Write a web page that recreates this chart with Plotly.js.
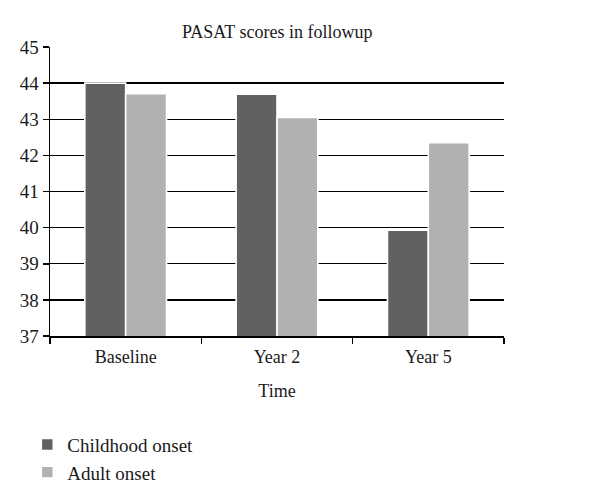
<!DOCTYPE html>
<html>
<head>
<meta charset="utf-8">
<script src="https://cdn.plot.ly/plotly-3.0.1.min.js"></script>
<style>html,body{margin:0;padding:0;background:#fff;}#chart{width:600px;height:503px;}</style>
</head>
<body>
<div id="chart"></div>
<script>
const categories = ["Baseline", "Year 2", "Year 5"];
const childhoodOnset = [44.0, 43.69, 39.93];
const adultOnset = [43.71, 43.05, 42.35];
const seriesNames = ["Childhood onset", "Adult onset"];
const yTicks = [37, 38, 39, 40, 41, 42, 43, 44, 45];

const fam = "Liberation Serif, Times New Roman, serif";
const font = {family: fam, size: 19, color: "#1a1a1a"};
const font18 = {family: fam, size: 18, color: "#1a1a1a"};

const traces = [
  {type: "bar", name: seriesNames[0], x: categories, y: childhoodOnset,
   marker: {color: "#616161", line: {color: "#ffffff", width: 1.6}}},
  {type: "bar", name: seriesNames[1], x: categories, y: adultOnset,
   marker: {color: "#b1b1b1", line: {color: "#ffffff", width: 1.6}}}
];

const layout = {
  width: 600, height: 503,
  margin: {l: 50, r: 96, t: 47, b: 163},
  paper_bgcolor: "#fff", plot_bgcolor: "#fff",
  font: font,
  barmode: "group",
  bargap: 0.46,
  bargroupgap: 0,
  title: {text: "PASAT scores in followup", font: font18, x: 0.462, xanchor: "center", y: 1 - 32/503, yanchor: "middle", yref: "container"},
  xaxis: {
    title: {text: "Time", font: font18, standoff: 18},
    showline: true, linecolor: "#000", linewidth: 1.5,
    ticks: "outside", tickson: "boundaries", ticklen: 6, tickwidth: 1.5, tickcolor: "#000",
    ticklabelstandoff: 4,
    showgrid: false, tickfont: font18
  },
  yaxis: {
    range: [37, 45], tickvals: yTicks,
    showline: true, linecolor: "#000", linewidth: 1.5,
    ticks: "outside", ticklen: 6, tickwidth: 1.5, tickcolor: "#000",
    showgrid: true, gridcolor: "#000", gridwidth: 1.4,
    zeroline: false, tickfont: font
  },
  showlegend: true,
  legend: {
    x: -0.05, xanchor: "left", y: -0.31, yanchor: "top",
    orientation: "v", traceorder: "normal",
    font: font, bgcolor: "rgba(0,0,0,0)", tracegroupgap: 0
  }
};

Plotly.newPlot("chart", traces, layout, {displayModeBar: false, staticPlot: true});
</script>
</body>
</html>
